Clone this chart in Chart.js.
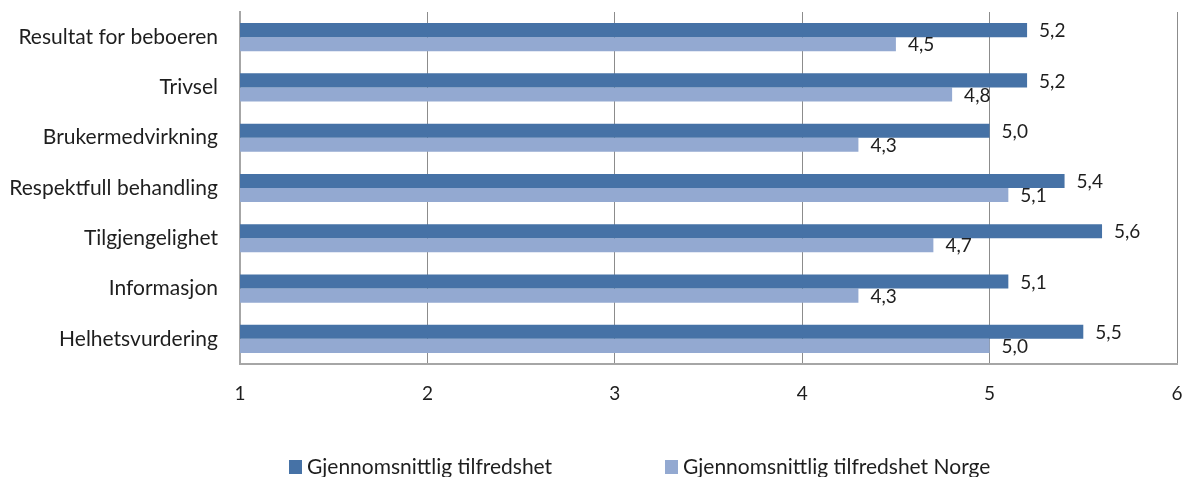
<!DOCTYPE html>
<html>
<head>
<meta charset="utf-8">
<script src="https://cdn.jsdelivr.net/npm/chart.js@4/dist/chart.umd.min.js"></script>
<style>
  html, body { margin: 0; padding: 0; background: #ffffff; }
  #wrap { position: relative; width: 1186px; height: 477px; }
</style>
</head>
<body>
<div id="wrap"><canvas id="chart" width="1186" height="477"></canvas></div>
<script>
// Satisfaction survey: average scores per area, local vs. national
const categories = [
  'Resultat for beboeren',
  'Trivsel',
  'Brukermedvirkning',
  'Respektfull behandling',
  'Tilgjengelighet',
  'Informasjon',
  'Helhetsvurdering'
];
const seriesNames = ['Gjennomsnittlig tilfredshet', 'Gjennomsnittlig tilfredshet Norge'];
const localScores = [5.2, 5.2, 5.0, 5.4, 5.6, 5.1, 5.5];
const norwayScores = [4.5, 4.8, 4.3, 5.1, 4.7, 4.3, 5.0];
const xTicks = [1, 2, 3, 4, 5, 6];

const FONT = 'Lato, "Open Sans", "Liberation Sans", sans-serif';
const TEXT = '#1e1e1e';
const DARK = '#4672a6';
const LIGHT = '#93a9d1';

const fmt = v => v.toFixed(1).replace('.', ',');

// Value labels placed just to the right of each bar
const valueLabels = {
  id: 'valueLabels',
  afterDatasetsDraw(chart) {
    const ctx = chart.ctx;
    ctx.save();
    ctx.font = '19px ' + FONT;
    ctx.fillStyle = TEXT;
    ctx.textAlign = 'left';
    ctx.textBaseline = 'middle';
    chart.data.datasets.forEach((ds, di) => {
      chart.getDatasetMeta(di).data.forEach((bar, i) => {
        ctx.fillText(fmt(ds.data[i]), bar.x + 12, bar.y + 1);
      });
    });
    ctx.restore();
  }
};

// Legend row under the axis
const bottomLegend = {
  id: 'bottomLegend',
  afterDraw(chart) {
    const ctx = chart.ctx;
    const starts = [289, 665];
    const y = 467;
    ctx.save();
    ctx.font = '21px ' + FONT;
    ctx.textBaseline = 'middle';
    ctx.textAlign = 'left';
    chart.data.datasets.forEach((ds, i) => {
      const x = starts[i];
      ctx.fillStyle = ds.backgroundColor;
      ctx.fillRect(x, y - 7, 13, 14);
      ctx.fillStyle = TEXT;
      ctx.fillText(ds.label, x + 18, y);
    });
    ctx.restore();
  }
};

new Chart(document.getElementById('chart'), {
  type: 'bar',
  data: {
    labels: categories,
    datasets: [
      { label: seriesNames[0], data: localScores, backgroundColor: DARK,
        categoryPercentage: 0.56, barPercentage: 1.0 },
      { label: seriesNames[1], data: norwayScores, backgroundColor: LIGHT,
        categoryPercentage: 0.56, barPercentage: 1.0 }
    ]
  },
  options: {
    indexAxis: 'y',
    responsive: false,
    animation: false,
    devicePixelRatio: 1,
    layout: { padding: { top: 12, right: 9, left: 0, bottom: 0 } },
    plugins: {
      legend: { display: false },
      tooltip: { enabled: false }
    },
    scales: {
      x: {
        type: 'linear',
        min: xTicks[0],
        max: xTicks[xTicks.length - 1],
        afterBuildTicks(scale) { scale.ticks = xTicks.map(v => ({ value: v })); },
        afterFit(scale) {
          scale.height = 113;
          scale.paddingLeft = 0;
          scale.paddingRight = 0;
        },
        grid: { color: '#8c8c8c', lineWidth: 1, drawTicks: false, tickLength: 0 },
        border: { display: true, color: '#a6a6a6', width: 2 },
        ticks: {
          font: { family: FONT, size: 19 },
          color: TEXT,
          padding: 18,
          callback: v => String(v)
        }
      },
      y: {
        afterFit(scale) {
          scale.width = 240;
          scale.paddingTop = 0;
          scale.paddingBottom = 0;
        },
        grid: { display: false, drawTicks: false, tickLength: 0 },
        border: { display: true, color: '#a6a6a6', width: 2 },
        ticks: {
          font: { family: FONT, size: 21 },
          color: TEXT,
          padding: 22
        }
      }
    }
  },
  plugins: [valueLabels, bottomLegend]
});
</script>
</body>
</html>
